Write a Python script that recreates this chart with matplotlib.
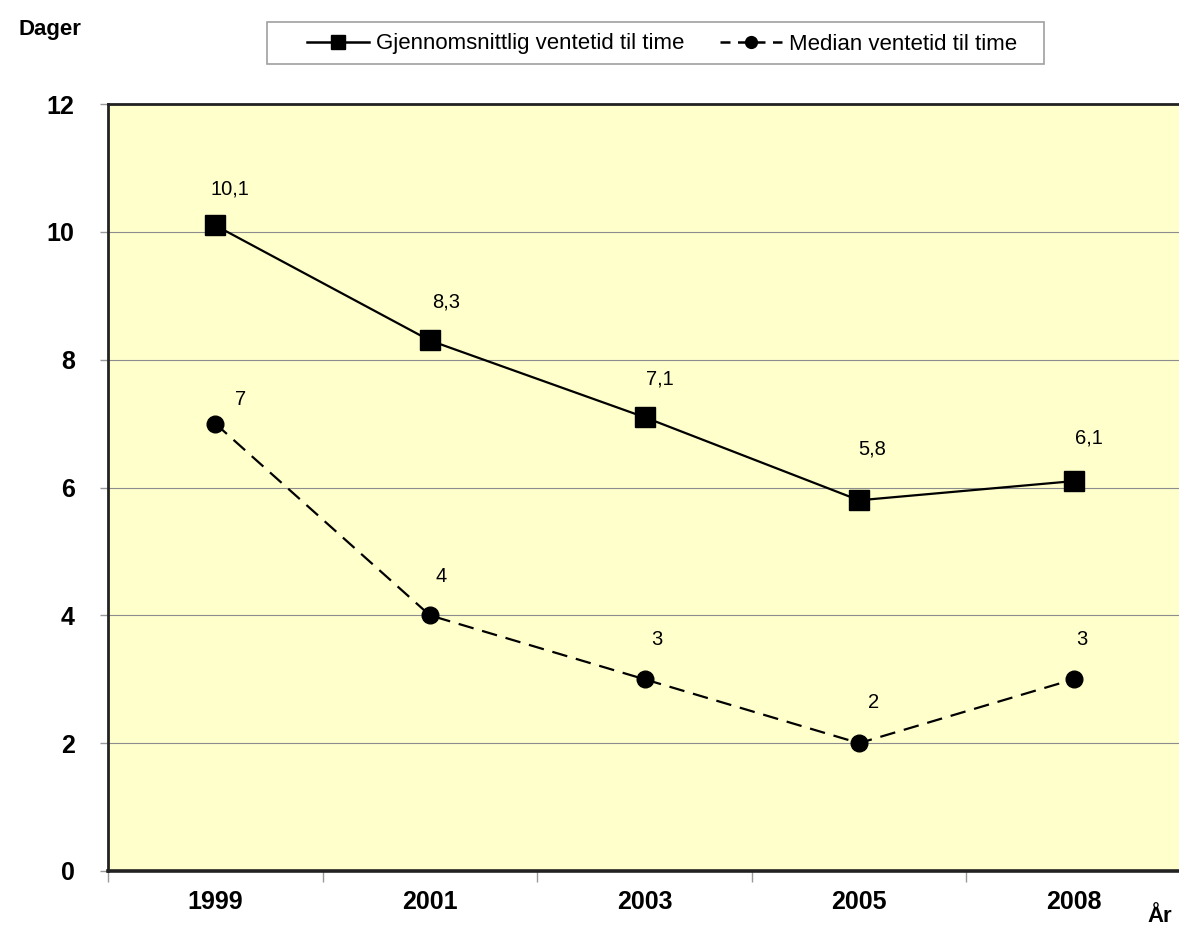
import matplotlib
matplotlib.use("Agg")
import matplotlib.pyplot as plt
from matplotlib.lines import Line2D
from matplotlib.patches import Rectangle

plt.rcParams['font.family'] = ['Liberation Sans', 'DejaVu Sans']

# data
years = ['1999', '2001', '2003', '2005', '2008']
mean_wait = [10.1, 8.3, 7.1, 5.8, 6.1]
median_wait = [7, 4, 3, 2, 3]
mean_labels = ['10,1', '8,3', '7,1', '5,8', '6,1']
median_labels = ['7', '4', '3', '2', '3']

# label offsets in pixels (dx, dy)
mean_offsets = [(15, 36), (16, 38), (15, 38), (13, 51), (15, 43)]
median_offsets = [(25, 24), (11, 39), (12, 40), (14, 41), (8, 40)]

W, H = 1179, 935
fig = plt.figure(figsize=(W / 100, H / 100), dpi=100)
ax = fig.add_axes([108 / W, 1 - 871 / H, (1181 - 108) / W, (871 - 104) / H])
ax.set_facecolor('#FFFFCC')

x = list(range(len(years)))
ax.plot(x, mean_wait, color='black', lw=1.6, marker='s', ms=14, zorder=3)
ax.plot(x, median_wait, color='black', lw=1.6, ls=(0, (7, 4)), marker='o', ms=12, zorder=3)

for xi, v, lab, off in zip(x, mean_wait, mean_labels, mean_offsets):
    ax.annotate(lab, (xi, v), xytext=off, textcoords='offset pixels',
                ha='center', va='center', fontsize=14.5)
for xi, v, lab, off in zip(x, median_wait, median_labels, median_offsets):
    ax.annotate(lab, (xi, v), xytext=off, textcoords='offset pixels',
                ha='center', va='center', fontsize=14.5)

ax.set_xlim(-0.5, 4.5)
ax.set_ylim(0, 12)
ax.set_yticks(range(0, 13, 2))
ax.set_yticklabels([str(t) for t in range(0, 13, 2)], fontsize=18, fontweight='bold')
ax.set_xticks([i - 0.5 for i in range(6)])
ax.set_xticklabels([])
ax.set_xticks(x, minor=True)
ax.set_xticklabels(years, minor=True, fontsize=18, fontweight='bold')
ax.tick_params(axis='x', which='minor', length=0, pad=14)
ax.tick_params(axis='x', which='major', length=8, color='#999999', width=1)
ax.tick_params(axis='y', length=6, color='#999999', width=1, pad=18)

ax.grid(axis='y', color='#8c8c8c', lw=0.8)
ax.set_axisbelow(True)
for side in ['left', 'top', 'right']:
    ax.spines[side].set_linewidth(2)
    ax.spines[side].set_color('#222222')
ax.spines['bottom'].set_linewidth(2.6)
ax.spines['bottom'].set_color('#222222')

fig.text(50 / W, 1 - 30 / H, 'Dager', fontsize=16, fontweight='bold', ha='center', va='center')
fig.text(1160 / W, 1 - 917 / H, 'År', fontsize=16, fontweight='bold', ha='center', va='center')

# legend box drawn by hand, entries without frame
fig.patches.append(Rectangle((267 / W, 1 - 64 / H), (1044 - 267) / W, 42 / H,
                             transform=fig.transFigure, facecolor='white',
                             edgecolor='#a0a0a0', lw=1.2))
handles = [
    Line2D([], [], color='black', lw=1.8, marker='s', ms=9.5),
    Line2D([], [], color='black', lw=1.8, ls=(0, (4, 3)), marker='o', ms=8.5),
]
fig.legend(handles, ['Gjennomsnittlig ventetid til time', 'Median ventetid til time'],
           loc='center', bbox_to_anchor=(662 / W, 1 - 44 / H), ncol=2,
           fontsize=16, frameon=False, handlelength=2.8, columnspacing=1.6,
           handletextpad=0.3, borderpad=0.2)

fig.savefig('out.png', dpi=100)
